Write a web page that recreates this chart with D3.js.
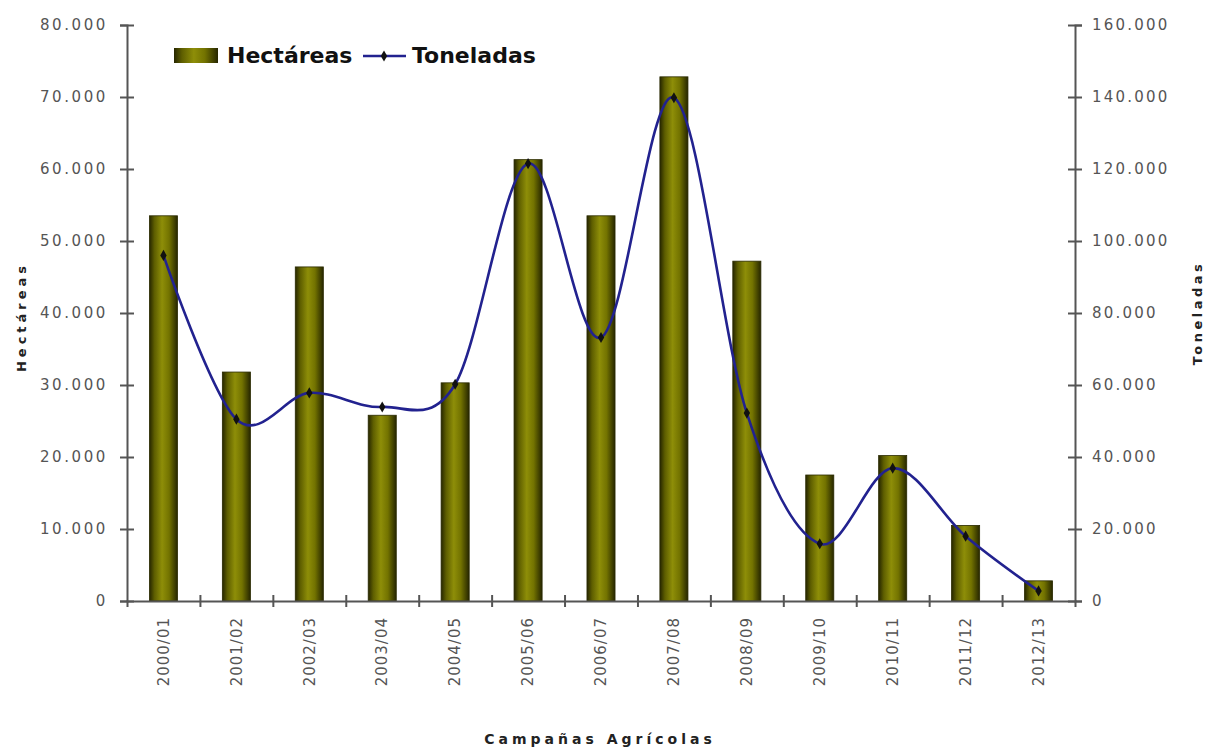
<!DOCTYPE html>
<html>
<head>
<meta charset="utf-8">
<script src="https://cdn.jsdelivr.net/npm/d3@7"></script>
<style>
  body { margin: 0; background: #fff; }
  text { font-family: "DejaVu Sans", Verdana, sans-serif; }
</style>
</head>
<body>
<div id="chart"></div>
<script>
// Campañas agrícolas
const campanas = ["2000/01", "2001/02", "2002/03", "2003/04", "2004/05", "2005/06", "2006/07",
                  "2007/08", "2008/09", "2009/10", "2010/11", "2011/12", "2012/13"];
// Superficie (left axis)
const hectareas = [53500, 31800, 46400, 25800, 30300, 61300, 53500, 72800, 47200, 17500, 20200, 10500, 2800];
// Producción (right axis)
const toneladas = [96000, 50500, 57800, 53900, 60200, 121500, 73200, 139800, 52200, 15900, 36900, 18000, 2800];
// Tick labels
const ticksLeft = [0, 10000, 20000, 30000, 40000, 50000, 60000, 70000, 80000];
const ticksRight = [0, 20000, 40000, 60000, 80000, 100000, 120000, 140000, 160000];

function init() {
    const w = 1207, h = 748;
    const left = 127, right = 1075, top = 25, bottom = 601;

    const svg = d3.select("#chart").append("svg")
        .attr("width", w)
        .attr("height", h);

    const fmt = d3.formatLocale({ decimal: ",", thousands: ".", grouping: [3], currency: ["", "€"] }).format(",");

    const x = d3.scaleBand().domain(campanas).range([left, right]).padding(0);
    const xi = d3.scaleLinear().domain([0, campanas.length]).range([left, right]);
    const yL = d3.scaleLinear().domain([0, 80000]).range([bottom, top]);
    const yR = d3.scaleLinear().domain([0, 160000]).range([bottom, top]);

    // bar gradient (dark edges, olive centre)
    const grad = svg.append("defs").append("linearGradient")
        .attr("id", "olive").attr("x1", "0%").attr("x2", "100%").attr("y1", "0%").attr("y2", "0%");
    grad.append("stop").attr("offset", "0%").attr("stop-color", "#262600");
    grad.append("stop").attr("offset", "18%").attr("stop-color", "#5e5e00");
    grad.append("stop").attr("offset", "45%").attr("stop-color", "#8e8e08");
    grad.append("stop").attr("offset", "70%").attr("stop-color", "#737300");
    grad.append("stop").attr("offset", "100%").attr("stop-color", "#262600");

    const barW = x.bandwidth() * 0.385;

    svg.selectAll("rect.bar")
        .data(hectareas)
        .enter()
        .append("rect")
        .attr("class", "bar")
        .attr("x", (d, i) => x(campanas[i]) + x.bandwidth() / 2 - barW / 2)
        .attr("y", d => yL(d))
        .attr("width", barW)
        .attr("height", d => yL(0) - yL(d))
        .attr("fill", "url(#olive)")
        .attr("stroke", "#2a2a00")
        .attr("stroke-width", 0.8);

    // axes
    const tickFont = (g, ls) => g.selectAll("text")
        .attr("fill", "#555")
        .style("font-size", "15px")
        .style("letter-spacing", ls);

    const gL = svg.append("g")
        .attr("transform", `translate(${left},0)`)
        .call(d3.axisLeft(yL).tickValues(ticksLeft).tickFormat(fmt).tickSize(7).tickPadding(12));
    gL.selectAll(".tick line").attr("x1", -7).attr("x2", 7);
    tickFont(gL, "2.6px");

    const gR = svg.append("g")
        .attr("transform", `translate(${right},0)`)
        .call(d3.axisRight(yR).tickValues(ticksRight).tickFormat(fmt).tickSize(7).tickPadding(10));
    gR.selectAll(".tick line").attr("x1", -7).attr("x2", 7);
    tickFont(gR, "2.2px");

    const gB = svg.append("g")
        .attr("transform", `translate(0,${bottom})`)
        .call(d3.axisBottom(xi).tickValues(d3.range(1, campanas.length)).tickFormat("").tickSize(6));
    gB.selectAll(".tick line").attr("y1", -6).attr("y2", 6);

    const gX = svg.append("g")
        .attr("transform", `translate(0,${bottom})`)
        .call(d3.axisBottom(x).tickSize(0).tickPadding(0));
    gX.select(".domain").remove();
    gX.selectAll("text")
        .attr("transform", "rotate(-90)")
        .attr("x", -16)
        .attr("y", 0)
        .attr("dy", "0.35em")
        .attr("text-anchor", "end");
    tickFont(gX, "1px");

    svg.selectAll(".domain, .tick line")
        .attr("stroke", "#555")
        .attr("stroke-width", 2);

    // line
    const line = d3.line()
        .x((d, i) => x(campanas[i]) + x.bandwidth() / 2)
        .y(d => yR(d))
        .curve(d3.curveCardinal.tension(0));

    svg.append("path")
        .datum(toneladas)
        .attr("d", line)
        .attr("fill", "none")
        .attr("stroke", "#22228f")
        .attr("stroke-width", 2.6);

    svg.selectAll("path.marker")
        .data(toneladas)
        .enter()
        .append("path")
        .attr("class", "marker")
        .attr("d", d3.symbol(d3.symbolDiamond).size(36))
        .attr("transform", (d, i) => `translate(${x(campanas[i]) + x.bandwidth() / 2},${yR(d)})`)
        .attr("fill", "#111");

    // axis titles
    svg.append("text")
        .attr("transform", "translate(26,317) rotate(-90)")
        .attr("text-anchor", "middle")
        .attr("font-weight", "bold")
        .style("font-size", "13px")
        .style("letter-spacing", "4px")
        .attr("fill", "#222")
        .text("Hectáreas");

    svg.append("text")
        .attr("transform", "translate(1202,313) rotate(-90)")
        .attr("text-anchor", "middle")
        .attr("font-weight", "bold")
        .style("font-size", "13px")
        .style("letter-spacing", "3.5px")
        .attr("fill", "#222")
        .text("Toneladas");

    svg.append("text")
        .attr("x", 600)
        .attr("y", 744)
        .attr("text-anchor", "middle")
        .attr("font-weight", "bold")
        .style("font-size", "14px")
        .style("letter-spacing", "4px")
        .attr("fill", "#222")
        .text("Campañas Agrícolas");

    // legend
    const lg = svg.append("g");
    lg.append("rect")
        .attr("x", 174).attr("y", 48).attr("width", 44).attr("height", 15)
        .attr("fill", "url(#olive)");
    lg.append("text")
        .attr("x", 227).attr("y", 63)
        .attr("font-weight", "bold")
        .style("font-size", "22px")
        .attr("fill", "#111")
        .text("Hectáreas");
    lg.append("line")
        .attr("x1", 363).attr("x2", 406).attr("y1", 56).attr("y2", 56)
        .attr("stroke", "#22228f").attr("stroke-width", 2.6);
    lg.append("path")
        .attr("d", d3.symbol(d3.symbolDiamond).size(36))
        .attr("transform", "translate(384,56)")
        .attr("fill", "#111");
    lg.append("text")
        .attr("x", 412).attr("y", 63)
        .attr("font-weight", "bold")
        .style("font-size", "22px")
        .attr("fill", "#111")
        .text("Toneladas");
}

window.onload = init;
</script>
</body>
</html>
